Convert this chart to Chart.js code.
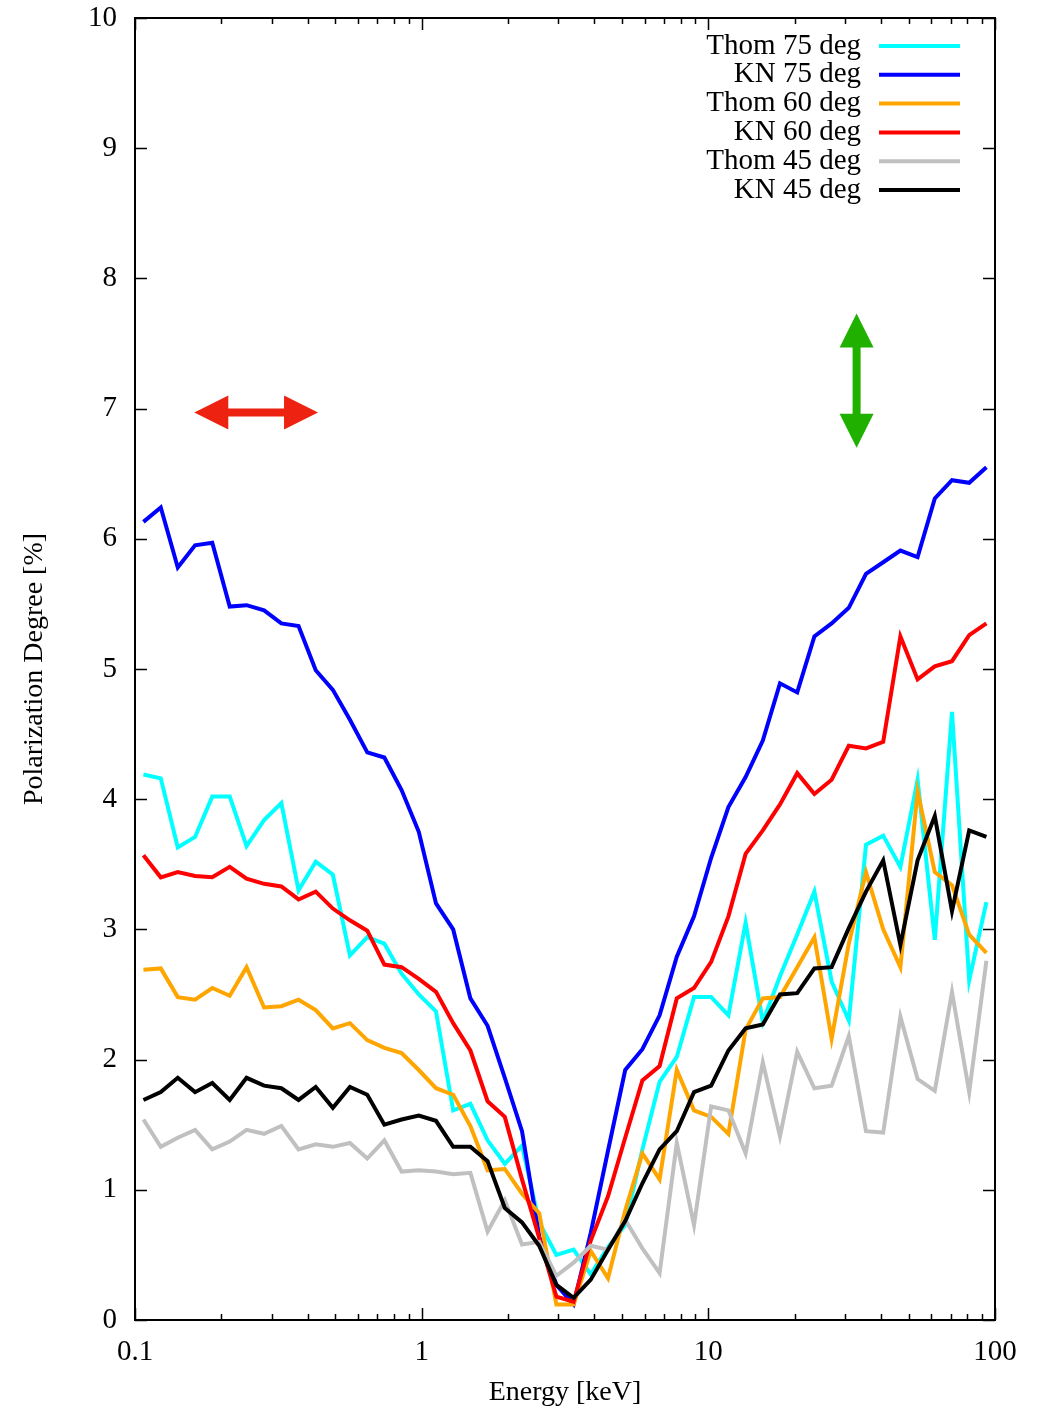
<!DOCTYPE html>
<html>
<head>
<meta charset="utf-8">
<script src="https://cdn.jsdelivr.net/npm/chart.js@4.4.0/dist/chart.umd.min.js"></script>
<style>
  html, body { margin: 0; padding: 0; background: #fff; }
  canvas { display: block; }
</style>
</head>
<body>
<canvas id="c" width="1058" height="1411"></canvas>
<script>
// energy bin centres [keV]
const energies = [0.107, 0.123, 0.141, 0.162, 0.186, 0.214, 0.245, 0.282, 0.324, 0.372,
  0.427, 0.490, 0.562, 0.646, 0.741, 0.851, 0.977, 1.122, 1.288, 1.479,
  1.698, 1.950, 2.239, 2.570, 2.951, 3.388, 3.890, 4.467, 5.129, 5.888,
  6.761, 7.762, 8.913, 10.23, 11.75, 13.49, 15.49, 17.78, 20.42, 23.44,
  26.92, 30.90, 35.48, 40.74, 46.77, 53.70, 61.66, 70.79, 81.28, 93.33];

const thom75 = [4.19, 4.16, 3.63, 3.71, 4.02, 4.02, 3.64, 3.84, 3.97, 3.30,
  3.52, 3.42, 2.80, 2.94, 2.89, 2.66, 2.50, 2.37, 1.61, 1.66,
  1.38, 1.20, 1.34, 0.75, 0.50, 0.54, 0.35, 0.56, 0.73, 1.31,
  1.83, 2.02, 2.48, 2.48, 2.34, 3.05, 2.29, 2.64, 2.96, 3.29,
  2.60, 2.30, 3.65, 3.72, 3.48, 4.15, 2.92, 4.67, 2.61, 3.21];
const kn75 = [6.13, 6.24, 5.78, 5.95, 5.97, 5.48, 5.49, 5.45, 5.35, 5.33,
  4.99, 4.84, 4.61, 4.36, 4.32, 4.07, 3.75, 3.20, 3.00, 2.47,
  2.26, 1.86, 1.45, 0.64, 0.27, 0.12, 0.67, 1.30, 1.92, 2.08,
  2.34, 2.79, 3.10, 3.55, 3.94, 4.17, 4.45, 4.89, 4.82, 5.25,
  5.35, 5.47, 5.73, 5.82, 5.91, 5.86, 6.31, 6.45, 6.43, 6.55];
const thom60 = [2.69, 2.70, 2.48, 2.46, 2.55, 2.49, 2.71, 2.40, 2.41, 2.46,
  2.38, 2.24, 2.28, 2.15, 2.09, 2.05, 1.92, 1.78, 1.73, 1.49,
  1.15, 1.16, 0.97, 0.82, 0.12, 0.12, 0.53, 0.32, 0.84, 1.28,
  1.08, 1.92, 1.61, 1.56, 1.43, 2.23, 2.47, 2.48, 2.71, 2.94,
  2.16, 2.89, 3.44, 3.00, 2.71, 4.06, 3.44, 3.34, 2.96, 2.82];
const kn60 = [3.57, 3.40, 3.44, 3.41, 3.40, 3.48, 3.39, 3.35, 3.33, 3.23,
  3.29, 3.16, 3.07, 2.99, 2.73, 2.71, 2.62, 2.52, 2.28, 2.07,
  1.68, 1.56, 1.08, 0.63, 0.18, 0.14, 0.61, 0.95, 1.40, 1.84,
  1.95, 2.47, 2.55, 2.75, 3.10, 3.58, 3.76, 3.96, 4.20, 4.04,
  4.15, 4.41, 4.39, 4.44, 5.25, 4.92, 5.02, 5.06, 5.26, 5.35];
const thom45 = [1.54, 1.33, 1.40, 1.46, 1.31, 1.37, 1.46, 1.43, 1.49, 1.31,
  1.35, 1.33, 1.36, 1.24, 1.38, 1.14, 1.15, 1.14, 1.12, 1.13,
  0.68, 0.92, 0.58, 0.60, 0.34, 0.44, 0.57, 0.54, 0.77, 0.55,
  0.36, 1.36, 0.73, 1.64, 1.61, 1.28, 1.98, 1.41, 2.06, 1.78,
  1.80, 2.18, 1.45, 1.44, 2.33, 1.85, 1.76, 2.52, 1.75, 2.76];
const kn45 = [1.69, 1.75, 1.86, 1.75, 1.82, 1.69, 1.86, 1.80, 1.78, 1.69,
  1.79, 1.63, 1.79, 1.73, 1.50, 1.54, 1.57, 1.53, 1.33, 1.33,
  1.22, 0.86, 0.75, 0.57, 0.27, 0.17, 0.31, 0.54, 0.76, 1.05,
  1.31, 1.45, 1.75, 1.80, 2.07, 2.24, 2.27, 2.50, 2.51, 2.70,
  2.71, 3.01, 3.29, 3.53, 2.88, 3.53, 3.87, 3.14, 3.76, 3.71];

const seriesLabels = ['Thom 75 deg', 'KN 75 deg', 'Thom 60 deg', 'KN 60 deg', 'Thom 45 deg', 'KN 45 deg'];
const seriesColors = ['#00ffff', '#0000ff', '#ffa500', '#ff0000', '#c0c0c0', '#000000'];
const seriesValues = [thom75, kn75, thom60, kn60, thom45, kn45];

const xTicks = [0.1, 1, 10, 100];
const xMinor = [2, 3, 4, 5, 6, 7, 8, 9];
const yTicks = [0, 1, 2, 3, 4, 5, 6, 7, 8, 9, 10];

const FONT = 'Liberation Serif, DejaVu Serif, serif';

const datasets = seriesValues.map((vals, i) => ({
  label: seriesLabels[i],
  data: vals.map((v, j) => ({ x: energies[j], y: v })),
  borderColor: seriesColors[i],
  backgroundColor: seriesColors[i],
  borderWidth: 4,
  pointRadius: 0,
  fill: false,
  tension: 0,
  order: seriesValues.length - i  // later series on top, like gnuplot
}));

// frame, inward ticks on all sides, legend and the two arrows
const decor = {
  id: 'decor',
  afterDatasetsDraw(chart) {
    const ctx = chart.ctx;
    const a = chart.chartArea;
    const xs = chart.scales.x, ys = chart.scales.y;
    ctx.save();
    ctx.strokeStyle = '#000';
    ctx.lineWidth = 1.5;
    ctx.beginPath();
    // y ticks left/right
    yTicks.forEach(v => {
      const p = Math.round(ys.getPixelForValue(v)) + 0.5;
      ctx.moveTo(a.left, p); ctx.lineTo(a.left + 12, p);
      ctx.moveTo(a.right, p); ctx.lineTo(a.right - 12, p);
    });
    // x ticks bottom/top
    xTicks.forEach(v => {
      const p = Math.round(xs.getPixelForValue(v)) + 0.5;
      ctx.moveTo(p, a.bottom); ctx.lineTo(p, a.bottom - 12);
      ctx.moveTo(p, a.top); ctx.lineTo(p, a.top + 12);
    });
    xTicks.slice(0, -1).forEach(dec => {
      xMinor.forEach(m => {
        const p = Math.round(xs.getPixelForValue(dec * m)) + 0.5;
        ctx.moveTo(p, a.bottom); ctx.lineTo(p, a.bottom - 6);
        ctx.moveTo(p, a.top); ctx.lineTo(p, a.top + 6);
      });
    });
    ctx.stroke();
    ctx.lineWidth = 2;
    ctx.strokeRect(a.left, a.top, a.right - a.left, a.bottom - a.top);

    // legend
    ctx.font = '29px ' + FONT;
    ctx.textAlign = 'right';
    ctx.textBaseline = 'middle';
    chart.data.datasets.forEach((ds, i) => {
      const y = 46 + i * 28.8;
      ctx.fillStyle = '#000';
      ctx.fillText(ds.label, 861, y);
      ctx.strokeStyle = ds.borderColor;
      ctx.lineWidth = 4;
      ctx.beginPath();
      ctx.moveTo(879, y); ctx.lineTo(960, y);
      ctx.stroke();
    });

    // arrows (placed in data coordinates)
    const head = 34, half = 17, shaft = 4;
    // horizontal red arrow
    const ry = ys.getPixelForValue(6.97);
    const rx0 = xs.getPixelForValue(0.161), rx1 = xs.getPixelForValue(0.435);
    ctx.fillStyle = '#ee2211';
    ctx.beginPath();
    ctx.moveTo(rx0, ry);
    ctx.lineTo(rx0 + head, ry - half);
    ctx.lineTo(rx0 + head, ry - shaft);
    ctx.lineTo(rx1 - head, ry - shaft);
    ctx.lineTo(rx1 - head, ry - half);
    ctx.lineTo(rx1, ry);
    ctx.lineTo(rx1 - head, ry + half);
    ctx.lineTo(rx1 - head, ry + shaft);
    ctx.lineTo(rx0 + head, ry + shaft);
    ctx.lineTo(rx0 + head, ry + half);
    ctx.closePath();
    ctx.fill();
    // vertical green arrow
    const gx = xs.getPixelForValue(32.9);
    const gy0 = ys.getPixelForValue(7.73), gy1 = ys.getPixelForValue(6.70);
    ctx.fillStyle = '#20b000';
    ctx.beginPath();
    ctx.moveTo(gx, gy0);
    ctx.lineTo(gx + half, gy0 + head);
    ctx.lineTo(gx + shaft, gy0 + head);
    ctx.lineTo(gx + shaft, gy1 - head);
    ctx.lineTo(gx + half, gy1 - head);
    ctx.lineTo(gx, gy1);
    ctx.lineTo(gx - half, gy1 - head);
    ctx.lineTo(gx - shaft, gy1 - head);
    ctx.lineTo(gx - shaft, gy0 + head);
    ctx.lineTo(gx - half, gy0 + head);
    ctx.closePath();
    ctx.fill();
    ctx.restore();
  }
};

new Chart(document.getElementById('c'), {
  type: 'line',
  data: { datasets: datasets },
  options: {
    responsive: false,
    animation: false,
    devicePixelRatio: 1,
    layout: { padding: { top: 18, right: 63, left: 0, bottom: 0 } },
    plugins: { legend: { display: false }, tooltip: { enabled: false } },
    scales: {
      x: {
        type: 'logarithmic',
        min: 0.1, max: 100,
        afterBuildTicks: s => { s.ticks = xTicks.map(v => ({ value: v })); },
        afterFit: s => { s.height = 91; s.paddingLeft = 0; s.paddingRight = 0; },
        grid: { display: false },
        border: { display: false },
        ticks: {
          autoSkip: false, maxRotation: 0, padding: 7,
          color: '#000', font: { family: FONT, size: 29 },
          callback: v => String(v)
        },
        title: {
          display: true, text: 'Energy [keV]', color: '#000',
          font: { family: FONT, size: 28 }, padding: { top: 0, bottom: 2 }
        }
      },
      y: {
        min: 0, max: 10,
        afterBuildTicks: s => { s.ticks = yTicks.map(v => ({ value: v })); },
        afterFit: s => { s.width = 135; s.paddingTop = 0; s.paddingBottom = 0; },
        grid: { display: false },
        border: { display: false },
        ticks: {
          padding: 10, color: '#000', font: { family: FONT, size: 29 },
          callback: v => String(v)
        },
        title: {
          display: true, text: 'Polarization Degree [%]', color: '#000',
          font: { family: FONT, size: 28 }, padding: { top: 18, bottom: 0 }
        }
      }
    }
  },
  plugins: [decor]
});
</script>
</body>
</html>
